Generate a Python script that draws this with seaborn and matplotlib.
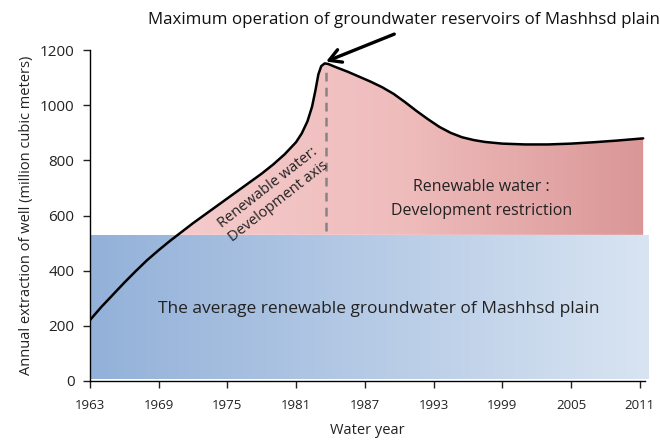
import matplotlib
matplotlib.use("Agg")
import matplotlib.pyplot as plt
from matplotlib.colors import LinearSegmentedColormap
import numpy as np
import pandas as pd
import seaborn as sns

# Extraction curve (million cubic meters)
years = [1963, 1964, 1965, 1966, 1967, 1968, 1969, 1970, 1971, 1972,
         1973, 1974, 1975, 1976, 1977, 1978, 1979, 1980, 1981, 1981.5,
         1982, 1982.4, 1982.7, 1982.95, 1983.2, 1983.5, 1983.8, 1984.5,
         1985.5, 1986.5, 1987.5, 1988.5, 1989.5, 1990.5, 1991.5, 1992.5,
         1993.5, 1994.5, 1995.5, 1996.5, 1997.5, 1999, 2001, 2003, 2005,
         2007, 2009, 2011.3]
extraction = [220, 268, 312, 356, 398, 438, 474, 508, 540, 572,
              602, 632, 662, 692, 722, 752, 785, 822, 866, 898,
              942, 995, 1055, 1112, 1142, 1152, 1150, 1138,
              1122, 1104, 1086, 1066, 1042, 1012, 980, 950,
              922, 900, 884, 874, 867, 861, 858, 858, 861,
              866, 872, 880]

renewable = 530          # average renewable groundwater
peak_year = 1983.6
x_ticks = [1963, 1969, 1975, 1981, 1987, 1993, 1999, 2005, 2011]
y_ticks = [0, 200, 400, 600, 800, 1000, 1200]

df = pd.DataFrame({"year": years, "extraction": extraction})

sns.set_theme(style="ticks")
plt.rcParams["font.family"] = ["Open Sans", "DejaVu Sans"]

fig = plt.figure(figsize=(6.6, 4.44), dpi=100)
ax = fig.add_axes([0.136, 0.142, 0.842, 0.745])
ax.set_xlim(1963, 2011.5)
ax.set_ylim(0, 1200)

# blue block: average renewable groundwater, horizontal gradient
blue_cmap = LinearSegmentedColormap.from_list("blues", ["#93b1d9", "#d8e4f2"])
grad = np.linspace(0, 1, 256).reshape(1, -1)
ax.imshow(grad, cmap=blue_cmap, aspect="auto",
          extent=[1963, 2011.7, 8, renewable], zorder=1, clip_on=False)

# pink area between renewable line and curve
poly = ax.fill_between(df["year"], renewable, df["extraction"],
                       where=df["extraction"] >= renewable, interpolate=True,
                       color="none", lw=0, zorder=1)
pink_cmap = LinearSegmentedColormap.from_list("pinks", ["#f6cccc", "#efbcbc", "#da9696"])
img = ax.imshow(grad, cmap=pink_cmap, aspect="auto",
                extent=[1969, 2011.6, renewable, 1200], zorder=1)
img.set_clip_path(poly.get_paths()[0], transform=ax.transData)

sns.lineplot(data=df, x="year", y="extraction", color="black", lw=1.8,
             ax=ax, zorder=3)

peak_val = max(extraction)
ax.plot([peak_year, peak_year], [renewable + 15, peak_val - 20], color="#858585",
        lw=1.8, ls=(0, (3.5, 2.5)), zorder=2)

ax.set_xticks(x_ticks)
ax.set_yticks(y_ticks)
ax.tick_params(colors="#222222", length=5, width=1)
ax.tick_params(axis="x", pad=8, labelsize=9.5)
ax.tick_params(axis="y", pad=6, labelsize=11)
ax.spines["top"].set_visible(False)
ax.spines["right"].set_visible(False)
for s in ("left", "bottom"):
    ax.spines[s].set_color("black")
    ax.spines[s].set_linewidth(1)

ax.set_xlabel("Water year", fontsize=10.5, color="#222222", labelpad=8)
ax.set_ylabel("Annual extraction of well (million cubic meters)", fontsize=10.5,
              color="#222222", labelpad=4)

ax.text(1988.2, 262, "The average renewable groundwater of Mashhsd plain",
        ha="center", va="center", fontsize=12.5, color="#222222", zorder=4)
ax.text(1997.2, 660, "Renewable water :\nDevelopment restriction",
        ha="center", va="center", fontsize=11.5, color="#222222",
        linespacing=1.65, zorder=4)
ax.text(1979.0, 675, "Renewable water:\nDevelopment axis", ha="center",
        va="center", rotation=38, fontsize=10.5, color="#222222",
        linespacing=1.2, zorder=4, rotation_mode="anchor")

fig.text(0.612, 0.955, "Maximum operation of groundwater reservoirs of Mashhsd plain",
         ha="center", va="center", fontsize=12.2, color="#111111")
ax.annotate("", xy=(1983.4, 1155), xytext=(1989.8, 1262),
            arrowprops=dict(arrowstyle="->,head_length=0.7,head_width=0.4",
                            color="black", lw=2.4),
            annotation_clip=False, zorder=5)

fig.savefig("out.png", dpi=100)
